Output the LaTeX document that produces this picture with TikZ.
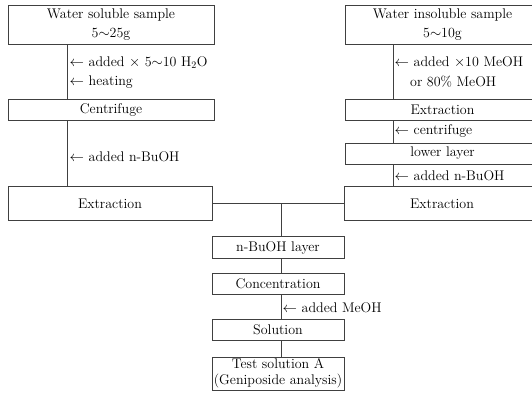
\documentclass[tikz,border=0pt]{standalone}
\begin{document}
\begin{tikzpicture}[x=1pt,y=-1pt,
    box/.style={draw=black!75,line width=0.6pt,inner sep=0pt,align=center,
      font=\fontsize{14}{19}\selectfont},
    note/.style={anchor=west,inner sep=1pt,font=\fontsize{14}{16}\selectfont}]
  \clip (0,0) rectangle (532,396);
  % left column
  \draw
    (111,24.5) node[box,minimum width=206,minimum height=39] (ws){Water soluble sample\\5$\sim$25g}
    (111,110) node[box,minimum width=206,minimum height=21] (cf){Centrifuge}
    (110,203.5) node[box,minimum width=204,minimum height=34] (exL){Extraction};
  % right column
  \draw
    (442.5,24.5) node[box,minimum width=195,minimum height=39] (wi){Water insoluble sample\\5$\sim$10g}
    (442.5,109.5) node[box,minimum width=195,minimum height=21] (exA){Extraction}
    (442.5,153.5) node[box,minimum width=195,minimum height=21] (ll){lower layer}
    (442,203.5) node[box,minimum width=196,minimum height=34] (exB){Extraction};
  % middle column
  \draw
    (278,247.5) node[box,minimum width=132,minimum height=22] (nb){n-BuOH layer}
    (278,284) node[box,minimum width=132,minimum height=21] (cc){Concentration}
    (278,329.5) node[box,minimum width=132,minimum height=21] (sol){Solution}
    (278,373.5) node[box,minimum width=132,minimum height=33,
      font=\fontsize{14}{15.5}\selectfont] (ts){Test solution A\\(Geniposide analysis)};
  \coordinate (lx) at (67.6,0);
  \coordinate (rx) at (393,0);
  \coordinate (mx) at (281,0);
  \coordinate (j) at (exL.east -| mx);
  % side notes
  \draw
    (68.5,62.5) node[note] (n1){$\leftarrow$ added $\times$ 5$\sim$10 H$_2$O}
    (68.5,82) node[note] (n2){$\leftarrow$ heating}
    (68.5,157) node[note] (n3){$\leftarrow$ added n-BuOH}
    (393.5,62.5) node[note] (n4){$\leftarrow$ added $\times$10 MeOH}
    (409,82) node[note] (n5){or 80\% MeOH}
    (393.5,131.5) node[note] (n6){$\leftarrow$ centrifuge}
    (393.5,175.5) node[note] (n7){$\leftarrow$ added n-BuOH}
    (281.5,308) node[note] (n8){$\leftarrow$ added MeOH};
  \begin{scope}[draw=black!75,line width=0.6pt]
    \draw (ws.south -| lx) to (cf.north -| lx);
    \draw (cf.south -| lx) to (exL.north -| lx);
    \draw (wi.south -| rx) to (exA.north -| rx);
    \draw (exA.south -| rx) to (ll.north -| rx);
    \draw (ll.south -| rx) to (exB.north -| rx);
    \draw (exL.east) to (exB.west);
    \draw (j) to (nb.north -| mx);
    \draw (nb.south -| mx) to (cc.north -| mx);
    \draw (cc.south -| mx) to (sol.north -| mx);
    \draw (sol.south -| mx) to (ts.north -| mx);
  \end{scope}
\end{tikzpicture}
\end{document}
